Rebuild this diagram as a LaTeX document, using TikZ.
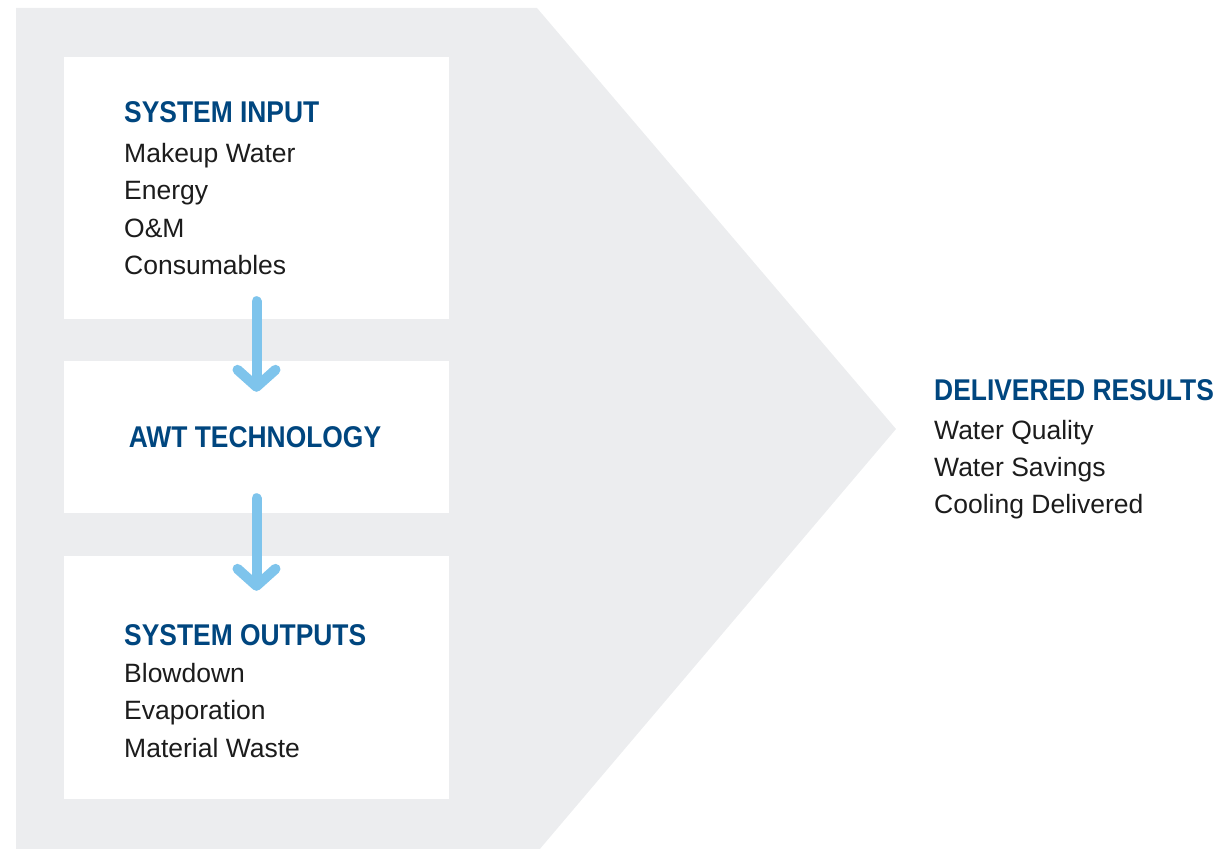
\documentclass[tikz,border=0pt]{standalone}
\usepackage{fontspec}
\setmainfont{Liberation Sans}
\newfontfamily\headfont[FakeStretch=0.88]{Liberation Sans}
\definecolor{awtblue}{RGB}{0, 70, 127}
\definecolor{panelgray}{RGB}{236, 237, 239}
\definecolor{flowblue}{RGB}{126, 196, 236}
\definecolor{textgray}{RGB}{28, 28, 28}
\usetikzlibrary{arrows.meta, positioning, calc}

\tikzset{
  panel/.style={fill=white, inner sep=0pt, minimum width=385pt},
  headtext/.style={anchor=base west, inner sep=0pt, text=awtblue, font=\headfont\bfseries\fontsize{30}{36}\selectfont},
  itemtext/.style={anchor=base west, inner sep=0pt, text=textgray, font=\fontsize{26.5}{32}\selectfont},
  flow/.style={line width=10pt, flowblue, line cap=round, -{Straight Barb[length=17pt, width=38pt, round]}}
}

\begin{document}
\begin{tikzpicture}[x=1pt, y=-1pt]
  \useasboundingbox (0,0) rectangle (1222,848);

  % Grey chevron behind everything
  \fill[panelgray] (16,8) -- (537,8) -- (896,429) -- (539,850) -- (16,850) -- cycle;

  % White panels
  \node[panel, minimum height=262pt] (inbox) at (256.5,188) {};
  \node[panel, minimum height=152pt] (techbox) at (256.5,437) {};
  \node[panel, minimum height=243pt] (outbox) at (256.5,677.5) {};

  % System input
  \node[headtext] (inhead) at (124,123) {SYSTEM INPUT};
  \foreach \txt [count=\i] in {Makeup Water, Energy, O\&M, Consumables}
    \node[itemtext] (initem\i) at (124,{162+37.5*(\i-1)}) {\txt};

  % Technology
  \node[headtext, anchor=base] (techhead) at (255,447) {AWT TECHNOLOGY};

  % System outputs
  \node[headtext] (outhead) at (124,645) {SYSTEM OUTPUTS};
  \foreach \txt [count=\i] in {Blowdown, Evaporation, Material Waste}
    \node[itemtext] (outitem\i) at (124,{682+37.5*(\i-1)}) {\txt};

  % Delivered results
  \node[headtext] (reshead) at (934,400) {DELIVERED RESULTS};
  \foreach \txt [count=\i] in {Water Quality, Water Savings, Cooling Delivered}
    \node[itemtext] (resitem\i) at (934,{439+37*(\i-1)}) {\txt};

  % Flow arrows
  \draw[flow] ([yshift=18pt]inbox.south) -- ([yshift=-31pt]techbox.north);
  \draw[flow] ([yshift=15pt]techbox.south) -- ([yshift=-35pt]outbox.north);
\end{tikzpicture}
\end{document}
